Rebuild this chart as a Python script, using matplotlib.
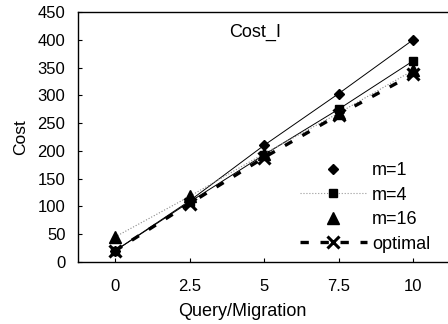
import matplotlib
matplotlib.use("Agg")
import matplotlib.pyplot as plt
from matplotlib.lines import Line2D

plt.rcParams['font.family'] = ['Liberation Sans', 'DejaVu Sans']

x = [0, 2.5, 5, 7.5, 10]
xticklabels = ['0', '2.5', '5', '7.5', '10']
m1 = [20, 110, 210, 303, 400]
m4 = [20, 108, 193, 275, 362]
m16 = [45, 118, 195, 268, 345]
optimal = [20, 105, 188, 265, 338]
labels = ['m=1', 'm=4', 'm=16', 'optimal']

W, H = 448, 324
fig = plt.figure(figsize=(W / 100, H / 100), dpi=100)
ax = fig.add_axes([78 / W, (H - 262) / H, 1 - 78 / W, 250 / H])

dash = (0, (2.5, 3.5))
ax.plot(x, m1, color='black', lw=0.7, marker='D', ms=5)
ax.plot(x, m4, color='black', lw=0.7, marker='s', ms=6)
ax.plot(x, m16, color='#888888', lw=0.8, ls=':', marker='^', ms=9,
        markerfacecolor='black', markeredgecolor='black')
ax.plot(x, optimal, color='black', lw=2.4, ls=dash, marker='x', ms=8, mew=2.2)

handles = [
    Line2D([], [], ls='none', color='black', marker='D', ms=5),
    Line2D([], [], ls=':', lw=0.8, color='#999999', marker='s', ms=6,
           markerfacecolor='black', markeredgecolor='black'),
    Line2D([], [], ls='none', color='black', marker='^', ms=9),
    Line2D([], [], ls=dash, lw=2.4, color='black', marker='x', ms=8, mew=2.2),
]

ax.set_xlim(-1.24, 11.17)
ax.set_ylim(0, 450)
ax.set_xticks(x)
ax.set_xticklabels(xticklabels)
ax.set_yticks(range(0, 451, 50))
ax.tick_params(axis='both', labelsize=12, length=3, direction='in')
ax.tick_params(axis='x', pad=12)
ax.tick_params(axis='y', pad=9)
ax.set_xlabel('Query/Migration', fontsize=13)
ax.xaxis.set_label_coords(0.445, -0.165)
ax.set_ylabel('Cost', fontsize=12.5)
ax.yaxis.set_label_coords(-0.135, 0.5)
ax.text(0.478, 0.92, 'Cost_I', transform=ax.transAxes, ha='center', va='center', fontsize=13)
ax.spines['right'].set_visible(False)
for s in ['left', 'bottom', 'top']:
    ax.spines[s].set_linewidth(1.0)

fig.legend(handles, labels, loc='upper left', bbox_to_anchor=(300 / W, (H - 162) / H),
           frameon=False, fontsize=13, handlelength=3.7, handletextpad=0.3,
           labelspacing=0.42, borderpad=0, borderaxespad=0)

fig.savefig('out.png', dpi=100)
